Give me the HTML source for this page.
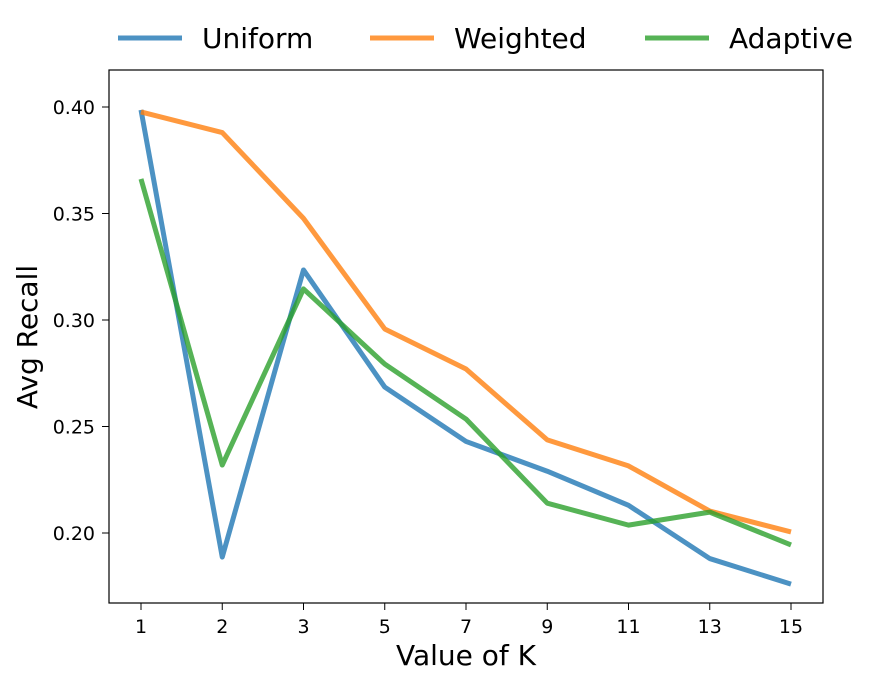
<!DOCTYPE html>
<html><head><meta charset="utf-8"><style>
body{margin:0;background:#fff;font-family:"Liberation Sans","DejaVu Sans",sans-serif}
svg text{font-family:"DejaVu Sans","Liberation Sans",sans-serif}
</style></head><body>
<svg id="chart" width="883" height="686" xmlns="http://www.w3.org/2000/svg"></svg>
<script>
const categories=["1","2","3","5","7","9","11","13","15"];
const uniform=[0.3986,0.1887,0.3235,0.2685,0.243,0.229,0.213,0.188,0.176];
const weighted=[0.3977,0.388,0.3477,0.2958,0.277,0.2437,0.2315,0.2103,0.2005];
const adaptive=[0.3662,0.2319,0.3146,0.2793,0.2535,0.214,0.2037,0.2098,0.1944];
const yTicks=[0.20,0.25,0.30,0.35,0.40];
const seriesNames=["Uniform","Weighted","Adaptive"];
const colors=["#1f77b4","#ff7f0e","#2ca02c"];
const NS="http://www.w3.org/2000/svg";
const svg=document.getElementById('chart');
const L=109,R=823,T=70,B=603;
function x(i){return 141+i*(791-141)/(categories.length-1);}
function y(v){return 533-(v-0.20)*(533-107)/0.20;}
function mk(tag,attrs,parent){const e=document.createElementNS(NS,tag);for(const k in attrs)e.setAttribute(k,attrs[k]);(parent||svg).appendChild(e);return e;}
const data=[uniform,weighted,adaptive];
data.forEach((d,s)=>{
  const p=mk('polyline',{points:d.map((v,i)=>x(i)+','+y(v)).join(' '),fill:'none',stroke:colors[s],'stroke-width':5,'stroke-opacity':0.8,'stroke-linejoin':'round'});
  
  
});
const frame=mk('rect',{x:L,y:T,width:R-L,height:B-T,fill:'none',stroke:'#000','stroke-width':1.2});


categories.forEach((c,i)=>{
  mk('line',{x1:x(i),x2:x(i),y1:B,y2:B+7,stroke:'#000'});
  const t=mk('text',{x:x(i),y:B+30,'text-anchor':'middle','font-size':19});t.textContent=c;
  
  
});
yTicks.forEach(v=>{
  mk('line',{x1:L-7,x2:L,y1:y(v),y2:y(v),stroke:'#000'});
  const t=mk('text',{x:L-14,y:y(v)+7,'text-anchor':'end','font-size':19});t.textContent=v.toFixed(2);
  
  
});
const xt=mk('text',{x:466,y:665,'text-anchor':'middle','font-size':28});xt.textContent='Value of K';


const yt=mk('text',{x:37,y:337,'text-anchor':'middle','font-size':28,transform:'rotate(-90 37 337)'});yt.textContent='Avg Recall';


const lx=[118,370,645];
seriesNames.forEach((n,s)=>{
  const g=mk('g',{});
  
  
  mk('line',{x1:lx[s],x2:lx[s]+64,y1:38,y2:38,stroke:colors[s],'stroke-width':5,'stroke-opacity':0.8},g);
  const t=mk('text',{x:lx[s]+84,y:48,'font-size':28},g);t.textContent=n;
});
</script>
</body></html>
